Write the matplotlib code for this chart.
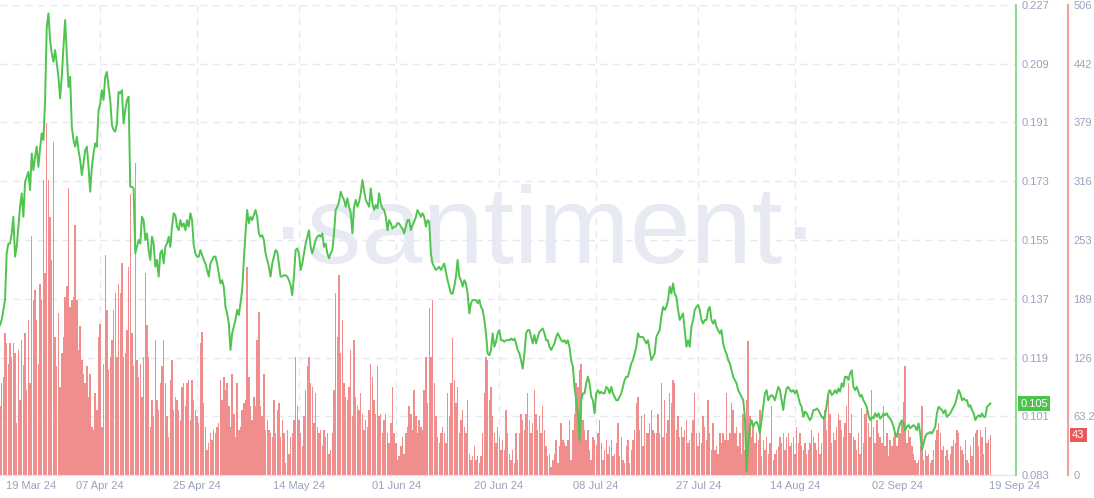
import matplotlib
matplotlib.use("Agg")
import matplotlib.pyplot as plt
import matplotlib.dates as mdates
import matplotlib.transforms as mtransforms
import pandas as pd

# ---------------- data ----------------
price = [
    0.1289, 0.1305, 0.1336, 0.1366, 0.1509, 0.1539, 0.1539, 0.1570, 0.1621, 0.1499,
    0.1529, 0.1591, 0.1652, 0.1693, 0.1621, 0.1728, 0.1744, 0.1759, 0.1703, 0.1815,
    0.1764, 0.1805, 0.1836, 0.1774, 0.1831, 0.1877, 0.1856, 0.1979, 0.2203, 0.2244,
    0.2162, 0.2122, 0.2096, 0.2132, 0.2091, 0.2050, 0.1984, 0.2050, 0.2142, 0.2224,
    0.2122, 0.2019, 0.2050, 0.1897, 0.1856, 0.1836, 0.1866, 0.1825, 0.1795, 0.1749,
    0.1785, 0.1825, 0.1836, 0.1774, 0.1698, 0.1774, 0.1815, 0.1846, 0.1836, 0.1948,
    0.1968, 0.2009, 0.1979, 0.2050, 0.2065, 0.2019, 0.1979, 0.1902, 0.1887, 0.1882,
    0.1907, 0.2004, 0.1999, 0.2009, 0.1907, 0.1948, 0.1979, 0.1989, 0.1713, 0.1713,
    0.1708, 0.1509, 0.1529, 0.1550, 0.1539, 0.1621,
    0.1611, 0.1550, 0.1570, 0.1519, 0.1489, 0.1560, 0.1539, 0.1468, 0.1489, 0.1438,
    0.1509, 0.1519, 0.1478, 0.1529, 0.1539, 0.1560, 0.1529, 0.1591, 0.1632, 0.1626,
    0.1591, 0.1580, 0.1611, 0.1591, 0.1601, 0.1580, 0.1611, 0.1591, 0.1632, 0.1611,
    0.1534, 0.1509, 0.1499, 0.1499, 0.1519, 0.1504, 0.1489, 0.1478, 0.1458, 0.1438,
    0.1478, 0.1489, 0.1499, 0.1499, 0.1478, 0.1448, 0.1417, 0.1427, 0.1407, 0.1345,
    0.1325, 0.1294, 0.1213, 0.1264, 0.1284, 0.1305, 0.1336, 0.1320, 0.1356, 0.1396,
    0.1489, 0.1570, 0.1642, 0.1601, 0.1621, 0.1611, 0.1626, 0.1642, 0.1621, 0.1570,
    0.1560, 0.1565, 0.1550, 0.1509, 0.1489, 0.1468, 0.1438, 0.1478, 0.1499, 0.1519,
    0.1514, 0.1478, 0.1438, 0.1438, 0.1442,
    0.1442, 0.1438, 0.1427, 0.1412, 0.1381, 0.1438, 0.1519, 0.1524, 0.1509, 0.1458,
    0.1478, 0.1509, 0.1539, 0.1560, 0.1580, 0.1529, 0.1509, 0.1529, 0.1550, 0.1560,
    0.1565, 0.1560, 0.1570, 0.1529, 0.1539, 0.1509, 0.1494, 0.1509, 0.1519, 0.1570,
    0.1642, 0.1652, 0.1667, 0.1698, 0.1683, 0.1673, 0.1652, 0.1678, 0.1652, 0.1632,
    0.1570, 0.1652, 0.1673, 0.1652, 0.1667, 0.1693, 0.1734, 0.1703, 0.1673, 0.1662,
    0.1652, 0.1708, 0.1662, 0.1642, 0.1657, 0.1647, 0.1693, 0.1662, 0.1647, 0.1642,
    0.1621, 0.1580, 0.1611, 0.1601, 0.1585, 0.1591, 0.1591, 0.1601, 0.1601, 0.1591,
    0.1585, 0.1570, 0.1591, 0.1611, 0.1611, 0.1580, 0.1596, 0.1606, 0.1621, 0.1642,
    0.1632, 0.1621, 0.1632, 0.1621, 0.1591,
    0.1611, 0.1606, 0.1509, 0.1478, 0.1468, 0.1458, 0.1463, 0.1468, 0.1458, 0.1468,
    0.1478, 0.1453, 0.1427, 0.1407, 0.1386, 0.1386, 0.1407, 0.1438, 0.1489, 0.1438,
    0.1427, 0.1407, 0.1427, 0.1417, 0.1386, 0.1325, 0.1356, 0.1366, 0.1366, 0.1366,
    0.1356, 0.1366, 0.1345, 0.1336, 0.1305, 0.1264, 0.1202, 0.1197, 0.1213, 0.1264,
    0.1223, 0.1238, 0.1264, 0.1274, 0.1243, 0.1243, 0.1238, 0.1243, 0.1243, 0.1243,
    0.1248, 0.1243, 0.1248, 0.1233, 0.1213, 0.1202, 0.1182, 0.1156, 0.1202, 0.1264,
    0.1274, 0.1274, 0.1253, 0.1233, 0.1259, 0.1233, 0.1253, 0.1269, 0.1274, 0.1279,
    0.1264, 0.1243, 0.1243, 0.1223, 0.1213, 0.1223, 0.1233, 0.1253, 0.1264, 0.1253,
    0.1243, 0.1238, 0.1243, 0.1233, 0.1243,
    0.1223, 0.1182, 0.1162, 0.1100, 0.1059, 0.1019, 0.0937, 0.1059, 0.1080, 0.1080,
    0.1111, 0.1131, 0.1111, 0.1070, 0.1059, 0.1019, 0.1080, 0.1090, 0.1080, 0.1085,
    0.1080, 0.1080, 0.1100, 0.1095, 0.1080, 0.1100, 0.1080, 0.1070, 0.1059, 0.1059,
    0.1070, 0.1080, 0.1100, 0.1121, 0.1131, 0.1131, 0.1151, 0.1172, 0.1182, 0.1202,
    0.1223, 0.1264, 0.1253, 0.1253, 0.1253, 0.1243, 0.1233, 0.1243, 0.1213, 0.1182,
    0.1192, 0.1202, 0.1253, 0.1264, 0.1274, 0.1315, 0.1345, 0.1336, 0.1345, 0.1366,
    0.1407, 0.1386, 0.1417, 0.1386, 0.1376, 0.1336, 0.1305, 0.1315, 0.1325, 0.1274,
    0.1223, 0.1243, 0.1223, 0.1284, 0.1305, 0.1336, 0.1345, 0.1351, 0.1336, 0.1305,
    0.1294, 0.1305, 0.1305, 0.1336, 0.1345,
    0.1305, 0.1294, 0.1305, 0.1284, 0.1274, 0.1264, 0.1274, 0.1233, 0.1213, 0.1202,
    0.1182, 0.1172, 0.1151, 0.1131, 0.1121, 0.1111, 0.1090, 0.1080, 0.1070, 0.1059,
    0.1008, 0.0840, 0.0927, 0.0978, 0.0998, 0.0978, 0.0988, 0.0993, 0.0983, 0.0957,
    0.0998, 0.1039, 0.1080, 0.1090, 0.1059, 0.1070, 0.1075, 0.1070, 0.1059, 0.1080,
    0.1100, 0.1090, 0.1059, 0.1029, 0.1070, 0.1095, 0.1100, 0.1090, 0.1085, 0.1090,
    0.1080, 0.1090, 0.1070, 0.1049, 0.1039, 0.1008, 0.1024, 0.1019, 0.1008, 0.0998,
    0.1008, 0.1029, 0.1029, 0.1034, 0.1029, 0.1019, 0.1008, 0.1003, 0.1013, 0.1044,
    0.1080, 0.1090, 0.1075, 0.1080, 0.1090, 0.1080, 0.1095, 0.1085, 0.1111, 0.1100,
    0.1131, 0.1131, 0.1121, 0.1141, 0.1151,
    0.1100, 0.1090, 0.1100, 0.1085, 0.1070, 0.1075, 0.1059, 0.1049, 0.1039, 0.1013,
    0.0998, 0.1008, 0.1003, 0.1019, 0.1008, 0.1019, 0.1003, 0.1008, 0.1019, 0.1013,
    0.1019, 0.1008, 0.1003, 0.0993, 0.0978, 0.0957, 0.0947, 0.0973, 0.0988, 0.0998,
    0.0988, 0.0967, 0.0978, 0.0983, 0.0973, 0.0978, 0.0983, 0.0978, 0.0967, 0.0988,
    0.0957, 0.0906, 0.0927, 0.0947, 0.0957, 0.0957, 0.0962, 0.0957, 0.0967, 0.0978,
    0.1019, 0.1039, 0.1034, 0.1029, 0.1019, 0.1029, 0.1008, 0.1013, 0.1019, 0.1029,
    0.1039, 0.1049, 0.1070, 0.1090, 0.1080, 0.1059, 0.1065, 0.1059, 0.1059, 0.1039,
    0.1044, 0.1029, 0.1019, 0.0998, 0.1008, 0.1013, 0.1008, 0.1019, 0.1008, 0.1008,
    0.1039, 0.1044, 0.1049,
]

volume = [
    74, 99, 106, 153, 142, 120, 142, 127, 142, 131,
    56, 135, 81, 145, 118, 153, 92, 167, 99, 257,
    188, 199, 167, 120, 206, 188, 318, 217, 379, 318,
    278, 232, 359, 149, 117, 174, 95, 131, 149, 192,
    203, 309, 181, 188, 192, 269, 188, 135, 160, 124,
    109, 99, 117, 84, 109, 52, 48, 88, 70, 149,
    163, 52, 120, 237, 178, 113, 127, 145, 178, 196,
    127, 206, 196, 228, 127, 131, 156, 224, 303, 153,
    117, 336, 124, 106, 120, 84,
    127, 217, 162, 127, 52, 81, 63, 145, 81, 70,
    99, 117, 145, 99, 63, 41, 102, 124, 70, 84,
    81, 70, 59, 95, 99, 74, 99, 102, 59, 102,
    81, 70, 63, 56, 142, 154, 77, 52, 27, 34,
    45, 38, 48, 45, 52, 56, 102, 81, 106, 92,
    99, 74, 52, 109, 66, 41, 99, 48, 52, 70,
    77, 81, 224, 106, 74, 59, 84, 74, 145, 176,
    74, 63, 109, 48, 59, 48, 45, 41, 81, 45,
    70, 77, 41, 59, 45,
    13, 48, 23, 41, 45, 59, 127, 74, 59, 45,
    31, 63, 92, 117, 127, 99, 95, 56, 88, 52,
    45, 48, 31, 48, 41, 45, 23, 27, 45, 92,
    196, 149, 215, 131, 167, 99, 84, 81, 95, 135,
    63, 145, 84, 74, 70, 88, 66, 48, 59, 52,
    70, 120, 106, 81, 66, 117, 63, 66, 45, 59,
    66, 45, 34, 56, 95, 45, 34, 16, 20, 31,
    41, 23, 45, 52, 74, 66, 48, 92, 63, 45,
    59, 52, 48, 92, 127,
    77, 180, 127, 188, 99, 63, 41, 34, 45, 52,
    45, 34, 88, 63, 99, 147, 102, 77, 95, 45,
    59, 70, 52, 45, 81, 23, 16, 20, 31, 16,
    20, 13, 20, 45, 88, 127, 124, 81, 95, 63,
    45, 34, 52, 41, 27, 38, 27, 70, 45, 23,
    16, 27, 13, 45, 16, 45, 66, 59, 48, 66,
    88, 59, 45, 56, 92, 66, 48, 63, 45, 74,
    48, 31, 20, 23, 9, 16, 23, 38, 13, 31,
    56, 38, 34, 31, 38,
    59, 16, 48, 66, 99, 95, 113, 120, 59, 48,
    38, 48, 27, 16, 41, 38, 31, 45, 59, 34,
    16, 27, 38, 23, 31, 38, 20, 23, 34, 56,
    20, 41, 16, 13, 31, 38, 13, 27, 38, 48,
    77, 84, 48, 63, 31, 66, 45, 45, 56, 70,
    48, 45, 45, 66, 45, 99, 41, 81, 45, 59,
    88, 77, 102, 99, 48, 63, 41, 52, 41, 48,
    59, 34, 38, 45, 59, 88, 45, 31, 45, 34,
    63, 52, 38, 81, 45,
    27, 56, 27, 31, 23, 45, 34, 45, 38, 88,
    38, 45, 77, 70, 45, 52, 31, 45, 23, 66,
    27, 81, 144, 63, 41, 52, 34, 45, 38, 70,
    20, 38, 27, 41, 23, 34, 74, 16, 23, 27,
    31, 41, 34, 45, 27, 41, 45, 31, 34, 41,
    23, 52, 34, 45, 31, 27, 34, 23, 27, 34,
    48, 41, 34, 27, 45, 23, 34, 63, 70, 48,
    92, 66, 34, 45, 38, 52, 66, 59, 48, 41,
    56, 74, 99, 45, 66,
    41, 38, 27, 45, 23, 72, 34, 66, 70, 56,
    41, 92, 52, 34, 59, 45, 41, 34, 74, 31,
    45, 20, 38, 31, 41, 45, 31, 48, 45, 56,
    79, 117, 34, 48, 41, 31, 23, 16, 13, 16,
    31, 74, 16, 27, 20, 23, 13, 16, 27, 38,
    48, 56, 45, 27, 31, 20, 27, 16, 23, 31,
    38, 34, 48, 45, 31, 27, 23, 38, 16, 13,
    31, 20, 41, 45, 48, 31, 48, 41, 23, 52,
    34, 38, 43,
]

series_start = "2024-03-19 10:45"
series_end = "2024-09-19 04:20"
view_end = "2024-09-23 22:30"

price_ticks = [0.083, 0.101, 0.119, 0.137, 0.155, 0.173, 0.191, 0.209, 0.227]
volume_max = 506
volume_tick_labels = ["0", "63.25", "126", "189", "253", "316", "379", "442", "506"]
date_ticks = ["2024-04-07", "2024-04-25", "2024-05-14", "2024-06-01", "2024-06-20",
              "2024-07-08", "2024-07-27", "2024-08-14", "2024-09-02"]
date_labels = ["07 Apr 24", "25 Apr 24", "14 May 24", "01 Jun 24", "20 Jun 24",
               "08 Jul 24", "27 Jul 24", "14 Aug 24", "02 Sep 24"]
first_label, last_label, last_label_date = "19 Mar 24", "19 Sep 24", "2024-09-19"
last_price_label = "0.105"
last_volume_label = "43"

# ---------------- styling ----------------
plt.rcParams["font.family"] = ["Liberation Sans", "DejaVu Sans"]
GREEN = "#4fc44f"
RED = "#f08e8e"
TICK_C = "#9aa2bd"
GRID_C = "#e6e8f1"

t_price = mdates.date2num(pd.date_range(series_start, series_end, periods=len(price)).to_pydatetime())
t_vol = mdates.date2num(pd.date_range(series_start, series_end, periods=len(volume)).to_pydatetime())
step = (t_vol[-1] - t_vol[0]) / (len(t_vol) - 1)

W, H = 1094, 498
fig = plt.figure(figsize=(W / 100, H / 100), dpi=100)
ax_v = fig.add_axes([0, 23 / H, 1016 / W, 470 / H])
ax_p = ax_v.twinx()

x0 = mdates.date2num(pd.Timestamp(series_start))
x1 = mdates.date2num(pd.Timestamp(view_end))

# volume bars
ax_v.bar(t_vol, volume, width=step * 0.85, color=RED, linewidth=0, zorder=2)
ax_v.set_xlim(x0, x1)
ax_v.set_ylim(0, volume_max)
ax_v.set_axisbelow(True)

# price line
ax_p.plot(t_price, price, color=GREEN, lw=1.4, zorder=3)
ax_p.set_xlim(x0, x1)
ax_p.set_ylim(price_ticks[0], price_ticks[-1])

# watermark
ax_v.text(0.536, 0.451, "\u00b7santiment\u00b7", transform=ax_v.transAxes,
          ha="center", va="baseline", fontsize=79, color="#e7e9f3",
          family=["Liberation Sans", "DejaVu Sans"], zorder=1)

# grid
ax_v.grid(True, axis="both", color=GRID_C, lw=1, ls=(0, (5, 4)), zorder=0)
ax_p.grid(False)

# y axes
ax_v.yaxis.tick_right()
ax_v.set_yticks([volume_max * k / 8 for k in range(9)])
ax_v.set_yticklabels(volume_tick_labels)
ax_v.tick_params(axis="y", length=0, pad=4, labelsize=8, labelcolor=TICK_C)
ax_p.set_yticks(price_ticks)
ax_p.set_yticklabels([f"{v:.3f}" for v in price_ticks])
ax_p.tick_params(axis="y", length=0, pad=4, labelsize=8, labelcolor=TICK_C)

# x axis
ax_v.set_xticks(mdates.date2num(pd.to_datetime(date_ticks).to_pydatetime()))
ax_v.set_xticklabels(date_labels)
ax_v.tick_params(axis="x", length=0, pad=4, labelsize=8, labelcolor=TICK_C)
ax_p.tick_params(axis="x", length=0, labelbottom=False)
ax_v.annotate(first_label, xy=(6 / 1016, 0), xycoords="axes fraction",
              xytext=(0, -4), textcoords="offset points", ha="left", va="top",
              fontsize=8, color=TICK_C)
trans = mtransforms.blended_transform_factory(ax_v.transData, ax_v.transAxes)
ax_v.annotate(last_label, xy=(mdates.date2num(pd.Timestamp(last_label_date)), 0),
              xycoords=trans, xytext=(0, -4), textcoords="offset points",
              ha="left", va="top", fontsize=8, color=TICK_C)

# spines
for s in ["top", "left"]:
    ax_v.spines[s].set_visible(False)
    ax_p.spines[s].set_visible(False)
ax_p.spines["bottom"].set_visible(False)
ax_v.spines["bottom"].set_color("#e1e4ec")
ax_v.spines["right"].set_position(("axes", 1068 / 1016))
ax_v.spines["right"].set_color("#f3a0a0")
ax_v.spines["right"].set_linewidth(1.5)
ax_p.spines["right"].set_color("#8edc8e")
ax_p.spines["right"].set_linewidth(1.5)

# last value badges
ax_p.annotate(last_price_label, xy=(1, price[-1]), xycoords=("axes fraction", "data"),
              xytext=(3, 0), textcoords="offset points", ha="left", va="center",
              fontsize=8, color="white", annotation_clip=False,
              bbox=dict(boxstyle="square,pad=0.2", fc="#4dc24d", ec="none"))
ax_v.annotate(last_volume_label, xy=(1068 / 1016, volume[-1]), xycoords=("axes fraction", "data"),
              xytext=(3, 0), textcoords="offset points", ha="left", va="center",
              fontsize=8, color="white", annotation_clip=False,
              bbox=dict(boxstyle="square,pad=0.2", fc="#e85a5a", ec="none"))

fig.savefig("out.png", dpi=100)
